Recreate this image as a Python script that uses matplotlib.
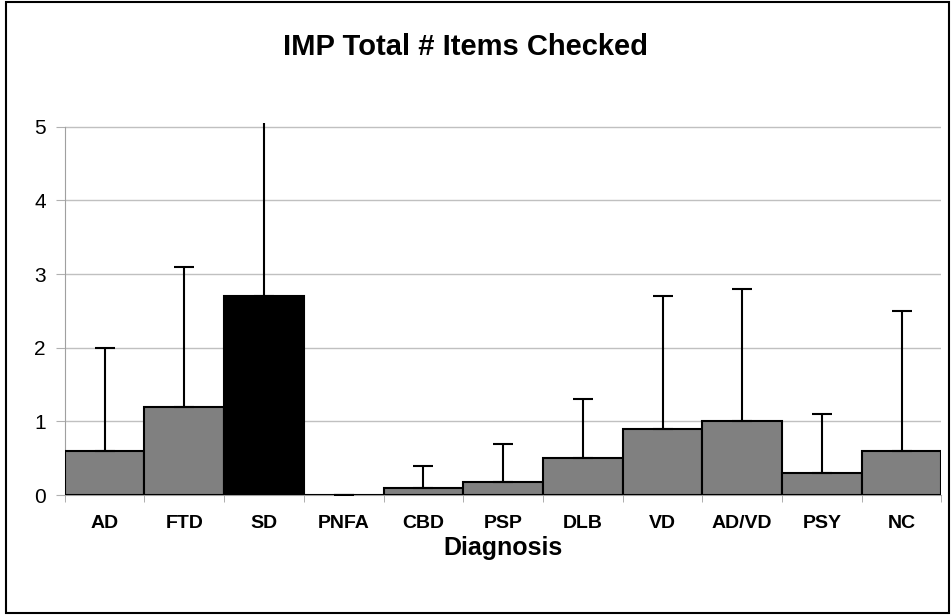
import matplotlib
matplotlib.use("Agg")
import matplotlib.pyplot as plt
from matplotlib.patches import Rectangle
import numpy as np

categories = ["AD", "FTD", "SD", "PNFA", "CBD", "PSP", "DLB", "VD", "AD/VD", "PSY", "NC"]
means = [0.6, 1.2, 2.7, 0.0, 0.1, 0.18, 0.5, 0.9, 1.0, 0.3, 0.6]
sds = [1.4, 1.9, 2.5, 0.0, 0.3, 0.52, 0.8, 1.8, 1.8, 0.8, 1.9]
colors = ["#808080", "#808080", "#000000", "#808080", "#808080", "#808080",
          "#808080", "#808080", "#808080", "#808080", "#808080"]
yticks = [0, 1, 2, 3, 4, 5]

plt.rcParams['font.family'] = ['Liberation Sans', 'DejaVu Sans']

fig = plt.figure(figsize=(9.51, 6.15), dpi=100)
ax = fig.add_axes([0.068, 0.195, 0.922, 0.605])

x = np.arange(len(categories))
ax.bar(x, means, width=1.0, color=colors, edgecolor="black", linewidth=1.5, zorder=3)
ax.errorbar(x, means, yerr=[np.zeros(len(sds)), sds], fmt="none", ecolor="black",
            elinewidth=1.5, capsize=7, capthick=1.5, zorder=4)

ax.set_xlim(-0.5, len(categories) - 0.5)
ax.set_ylim(0, 5.05)
ax.set_yticks(yticks)
ax.set_yticklabels([str(t) for t in yticks], fontsize=15)
ax.yaxis.grid(True, color="#c0c0c0", linewidth=1.0, zorder=0)
ax.set_axisbelow(True)

ax.set_xticks(x)
ax.set_xticklabels(categories, fontsize=14, fontweight="bold")
ax.tick_params(axis="x", length=0, pad=14)
ax.set_xticks(np.arange(-0.5, len(categories)), minor=True)
ax.tick_params(axis="x", which="minor", length=5, color="#a0a0a0")
ax.tick_params(axis="y", length=6.5, color="#b0b0b0", pad=7)

for s in ["top", "right"]:
    ax.spines[s].set_visible(False)
ax.spines["left"].set_color("#a0a0a0")
ax.spines["bottom"].set_color("#a0a0a0")
ax.spines["left"].set_bounds(0, 5)

ax.set_xlabel("Diagnosis", fontsize=18, fontweight="bold", labelpad=3)
fig.text(0.489, 0.924, "IMP Total # Items Checked", ha="center", va="center",
         fontsize=21, fontweight="bold")

fig.patches.append(Rectangle((6 / 951, 2 / 615), 943 / 951, 611 / 615, transform=fig.transFigure,
                             fill=False, edgecolor="black", linewidth=1.5))

fig.savefig("out.png", dpi=100)
